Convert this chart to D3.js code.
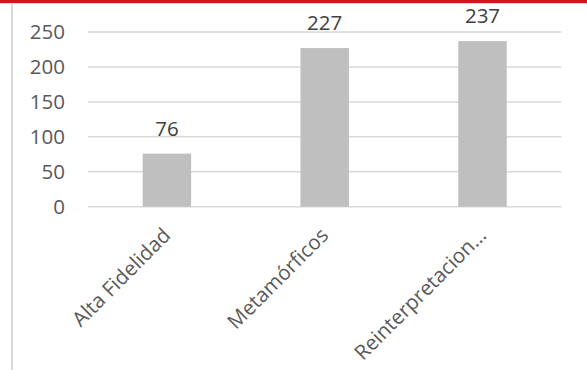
<!DOCTYPE html>
<html>
<head>
<meta charset="utf-8">
<script src="https://cdn.jsdelivr.net/npm/d3@7"></script>
<style>
  html, body { margin: 0; padding: 0; background: #fff; }
  svg { display: block; }
  text { font-family: "Open Sans", "Noto Sans", sans-serif; }
</style>
</head>
<body>
<svg id="chart" width="587" height="370"></svg>
<script>
// Categories and counts
const categories = ["Alta Fidelidad", "Metamórficos", "Reinterpretacion…"];
const values = [76, 227, 237];
const yTicks = [0, 50, 100, 150, 200, 250];

const W = 587, H = 370;
const plot = { left: 88, right: 561.4, top: 32, bottom: 206.7 };

const svg = d3.select("#chart");

// Frame: red rule along the top, grey rule down the left side
svg.append("rect").attr("x", 0).attr("y", 0).attr("width", W).attr("height", 3).attr("fill", "#c8191c");
svg.append("rect").attr("x", 0).attr("y", 3).attr("width", W).attr("height", 1).attr("fill", "#f3d6d6");
svg.append("rect").attr("x", 11).attr("y", 4).attr("width", 2).attr("height", H - 4).attr("fill", "#d9d9d9");

const x = d3.scaleBand()
  .domain(categories)
  .range([plot.left, plot.right])
  .paddingInner(0.693)
  .paddingOuter(0.3465);

const y = d3.scaleLinear()
  .domain([0, 250])
  .range([plot.bottom, plot.top]);

// Horizontal gridlines
svg.append("g")
  .selectAll("line")
  .data(yTicks)
  .join("line")
  .attr("x1", plot.left)
  .attr("x2", plot.right)
  .attr("y1", d => y(d))
  .attr("y2", d => y(d))
  .attr("stroke", "#d9d9d9")
  .attr("stroke-width", 1.5);

// Y axis labels
const yAxis = d3.axisLeft(y).tickValues(yTicks).tickSize(0).tickPadding(23);
const gy = svg.append("g").attr("transform", `translate(${plot.left},0)`).call(yAxis);
gy.select(".domain").remove();
gy.selectAll("text")
  .attr("fill", "#595959")
  .style("font-size", "20.5px")
  .attr("dy", "0.34em");

// Bars
svg.append("g")
  .selectAll("rect")
  .data(values)
  .join("rect")
  .attr("x", (d, i) => x(categories[i]))
  .attr("y", d => y(d))
  .attr("width", x.bandwidth())
  .attr("height", d => y(0) - y(d))
  .attr("fill", "#bfbfbf");

// Value labels above bars
svg.append("g")
  .selectAll("text")
  .data(values)
  .join("text")
  .attr("x", (d, i) => x(categories[i]) + x.bandwidth() / 2)
  .attr("y", d => y(d) - 18)
  .attr("text-anchor", "middle")
  .attr("fill", "#404040")
  .style("font-size", "20.5px")
  .text(d => d);

// Category labels, rotated 45 degrees
const xAxis = d3.axisBottom(x).tickSize(0).tickPadding(0);
const gx = svg.append("g").attr("transform", `translate(0,${plot.bottom})`).call(xAxis);
gx.select(".domain").remove();
gx.selectAll(".tick text")
  .attr("fill", "#595959")
  .style("font-size", "20.5px")
  .attr("text-anchor", "end")
  .attr("x", 0)
  .attr("y", 0)
  .attr("dy", null)
  .attr("transform", "translate(5,30) rotate(-45)");
</script>
</body>
</html>
